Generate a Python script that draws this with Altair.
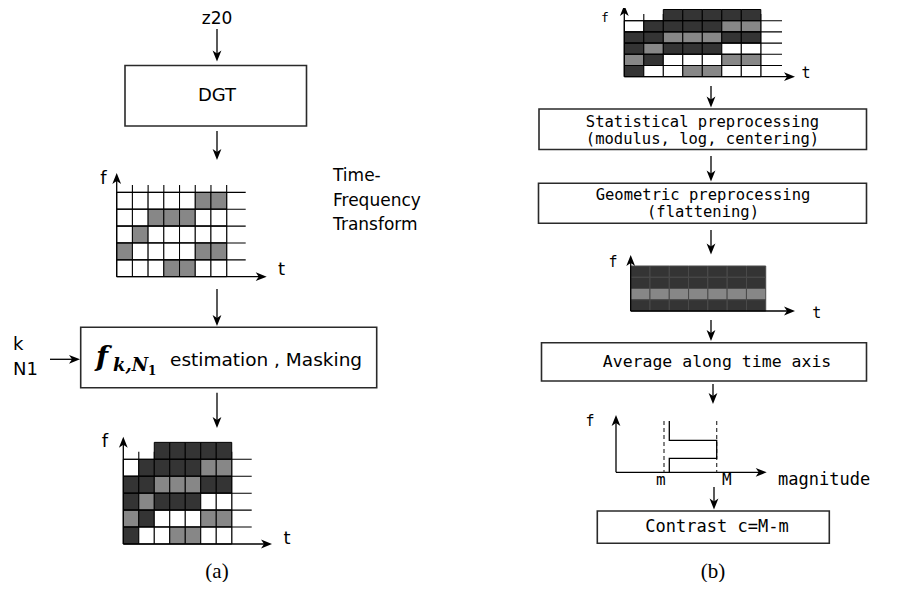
import altair as alt
import pandas as pd

W, H, PAD = 905, 590, 8

# ---------------- content ----------------
# cell codes: 0 = white, 1 = grey, 2 = dark, -1 = no cell
tf_grid = [
    [0, 0, 0, 0, 0, 1, 1],
    [0, 0, 1, 1, 1, 0, 0],
    [0, 1, 0, 0, 0, 0, 0],
    [1, 0, 0, 0, 0, 1, 1],
    [0, 0, 0, 1, 1, 0, 0],
]
masked_grid = [
    [-1, -1, 2, 2, 2, 2, 2],
    [0, 2, 2, 2, 2, 1, 1],
    [2, 2, 1, 1, 1, 2, 2],
    [2, 1, 2, 2, 2, 0, 0],
    [1, 2, 0, 0, 0, 1, 1],
    [2, 0, 0, 1, 1, 0, 0],
]
flat_rows = [2, 2, 1, 2]
flat_grid = [[v] * 7 for v in flat_rows]
fill_of = {0: "white", 1: "#878787", 2: "#343434"}

left_box_labels = ["DGT"]
right_box_labels = [
    ["Statistical preprocessing", "(modulus, log, centering)"],
    ["Geometric preprocessing", "(flattening)"],
    ["Average along time axis"],
    ["Contrast c=M-m"],
]
side_label = ["Time-", "Frequency", "Transform"]
params = ["k", "N1"]

# ---------------- layout ----------------
grids = [
    dict(m=tf_grid, x0=116.7, cw=15.71, yb=276.7, rh=16.87, full=5, ext=245.7, tick=7.3, stroke="black"),
    dict(m=masked_grid, x0=123.3, cw=15.49, yb=544.0, rh=16.94, full=5, ext=251.7, tick=7.6, stroke="black"),
    dict(m=masked_grid, x0=624.3, cw=19.5, yb=76.7, rh=11.2, full=5, ext=782.0, tick=6.7, stroke="black"),
    dict(m=flat_grid, x0=630.7, cw=19.29, yb=311.0, rh=11.25, full=0, ext=None, tick=0, stroke="#4a4a4a"),
]

cells, glines = [], []
for g in grids:
    n = len(g["m"])
    for r, row in enumerate(g["m"]):
        for c, v in enumerate(row):
            if v < 0:
                continue
            cells.append(dict(x=g["x0"] + c * g["cw"], x2=g["x0"] + (c + 1) * g["cw"],
                              y=g["yb"] - (n - r) * g["rh"], y2=g["yb"] - (n - r - 1) * g["rh"],
                              fill=fill_of[v], stroke=g["stroke"]))
    if g["full"]:
        top = g["yb"] - g["full"] * g["rh"]
        for k in range(1, g["full"] + 1):
            yy = g["yb"] - k * g["rh"]
            glines.append(dict(x=g["x0"], x2=g["ext"], y=yy, y2=yy))
        for j in range(1, len(g["m"][-1]) + 1):
            xx = g["x0"] + j * g["cw"]
            glines.append(dict(x=xx, x2=xx, y=top - g["tick"], y2=g["yb"]))

cells_df = pd.DataFrame(cells)
glines_df = pd.DataFrame(glines)

boxes_df = pd.DataFrame([
    dict(x=125, x2=306.5, y=65.5, y2=126),
    dict(x=80.7, x2=376.7, y=327.3, y2=387.7),
    dict(x=539, x2=866.5, y=109, y2=149.5),
    dict(x=538.5, x2=866.5, y=183.3, y2=223.3),
    dict(x=541.5, x2=866.5, y=342.7, y2=381),
    dict(x=597.3, x2=829.3, y=511, y2=543.3),
])

arrows = [
    (217, 29, 217, 61.5), (217, 131, 217, 160),
    (116.7, 276.7, 116.7, 173), (116.7, 276.7, 266.7, 276.7),
    (217, 289, 217, 326), (50, 359.3, 80, 359.3), (217, 392.7, 217, 428),
    (123.3, 544, 123.3, 436.7), (123.3, 544, 272, 544),
    (624.3, 76.7, 624.3, 5), (624.3, 76.7, 795, 76.7),
    (711, 86, 711, 107.5), (711, 156, 711, 181.5), (711, 230, 711, 254.5),
    (630.7, 311, 630.7, 255), (630.7, 311, 795, 311),
    (711, 320, 711, 341), (713, 384, 713, 404),
    (616, 472.3, 616, 415), (616, 472.3, 766.7, 472.3),
    (714, 487, 714, 509.5),
]
HEAD = 11
shafts, heads = [], []
for x1, y1, x2, y2 in arrows:
    dx = (x2 > x1) - (x2 < x1)
    dy = (y2 > y1) - (y2 < y1)
    ang = 90 if dx > 0 else (180 if dy > 0 else 0)
    shafts.append(dict(x=x1, y=y1, x2=x2 - dx * 3, y2=y2 - dy * 3))
    heads.append(dict(x=x2 - dx * HEAD / 2, y=y2 - dy * HEAD / 2, angle=ang))
shafts_df = pd.DataFrame(shafts)
heads_df = pd.DataFrame(heads)

dashed_df = pd.DataFrame([dict(x=664, x2=664, y=421, y2=472.3),
                          dict(x=716.7, x2=716.7, y=421, y2=472.3)])
step_df = pd.DataFrame([
    dict(x=669.3, y=421, o=0), dict(x=669.3, y=440.3, o=1), dict(x=716.7, y=440.3, o=2),
    dict(x=716.7, y=458.3, o=3), dict(x=669.3, y=458.3, o=4), dict(x=669.3, y=472.3, o=5),
])

sans_c = pd.DataFrame([
    dict(x=217, y=19, t="z20", s=17), dict(x=217, y=96, t=left_box_labels[0], s=18),
    dict(x=103.5, y=179, t="f", s=18), dict(x=281.5, y=270, t="t", s=18),
    dict(x=105, y=441.7, t="f", s=18), dict(x=287, y=539, t="t", s=18),
])
sans_l = pd.DataFrame([
    dict(x=333, y=176, t=side_label[0], s=17), dict(x=333, y=201, t=side_label[1], s=17),
    dict(x=333, y=225, t=side_label[2], s=17),
    dict(x=13, y=345, t=params[0], s=18), dict(x=13, y=370, t=params[1], s=18),
    dict(x=170, y=360, t="estimation , Masking", s=18.5),
])
mono_c = pd.DataFrame([
    dict(x=702.5, y=122, t=right_box_labels[0][0], s=15.5),
    dict(x=702.5, y=139, t=right_box_labels[0][1], s=15.5),
    dict(x=703, y=195, t=right_box_labels[1][0], s=15.5),
    dict(x=703, y=212, t=right_box_labels[1][1], s=15.5),
    dict(x=717, y=362, t=right_box_labels[2][0], s=16.5),
    dict(x=717, y=527, t=right_box_labels[3][0], s=17),
    dict(x=660.8, y=480, t="m", s=16), dict(x=726.7, y=480, t="M", s=16),
    dict(x=605, y=18, t="f", s=13), dict(x=806, y=73, t="t", s=15),
    dict(x=613, y=262, t="f", s=15), dict(x=816.7, y=313, t="t", s=15),
    dict(x=590, y=421, t="f", s=15),
])
mono_l = pd.DataFrame([dict(x=778, y=480, t="magnitude", s=17)])
serif_c = pd.DataFrame([dict(x=217, y=572, t="(a)", s=21), dict(x=713, y=572, t="(b)", s=21)])
math_bi = pd.DataFrame([dict(x=96, y=366, t="f", s=28), dict(x=113, y=371, t="k,N", s=18)])
math_b = pd.DataFrame([dict(x=148, y=375, t="1", s=12)])

# ---------------- chart ----------------
xs = alt.Scale(domain=[PAD, W - PAD], nice=False, zero=False)
ys = alt.Scale(domain=[PAD, H - PAD], nice=False, zero=False, reverse=True)


def X(f="x"):
    return alt.X(f"{f}:Q", scale=xs, axis=None)


def Y(f="y"):
    return alt.Y(f"{f}:Q", scale=ys, axis=None)


def seg(df, **kw):
    return alt.Chart(df).mark_rule(**kw).encode(x=X(), x2="x2:Q", y=Y(), y2="y2:Q")


def texts(df, font, align, baseline="middle", **kw):
    return alt.Chart(df).mark_text(font=font, align=align, baseline=baseline, color="black", **kw).encode(
        x=X(), y=Y(), text="t:N", size=alt.Size("s:Q", scale=None))


ARROW = "M0,-1 L0.8,1 L0,0.45 L-0.8,1 Z"

layers = [
    alt.Chart(boxes_df).mark_rect(fill="white", stroke="#2a2a2a", strokeWidth=1.6).encode(
        x=X(), x2="x2:Q", y=Y(), y2="y2:Q"),
    seg(glines_df[glines_df.x == glines_df.x2], color="black", strokeWidth=1.1),
    alt.Chart(cells_df).mark_rect(strokeWidth=1).encode(
        x=X(), x2="x2:Q", y=Y(), y2="y2:Q",
        color=alt.Color("fill:N", scale=None), stroke=alt.Stroke("stroke:N", scale=None)),
    seg(glines_df[glines_df.y == glines_df.y2], color="black", strokeWidth=1.1),
    seg(shafts_df, color="black", strokeWidth=1.3),
    alt.Chart(heads_df).mark_point(shape=ARROW, filled=True, color="black", opacity=1, size=HEAD * HEAD).encode(
        x=X(), y=Y(), angle=alt.Angle("angle:Q", scale=None)),
    seg(dashed_df, color="#333333", strokeWidth=1.2, strokeDash=[4, 3]),
    alt.Chart(step_df).mark_line(color="black", strokeWidth=1.3).encode(x=X(), y=Y(), order="o:Q"),
    texts(sans_c, "DejaVu Sans", "center"),
    texts(sans_l, "DejaVu Sans", "left"),
    texts(mono_c, "DejaVu Sans Mono", "center"),
    texts(mono_l, "DejaVu Sans Mono", "left"),
    texts(serif_c, "Liberation Serif", "center"),
    texts(math_bi, "DejaVu Serif", "left", baseline="alphabetic", fontStyle="italic", fontWeight="bold"),
    texts(math_b, "DejaVu Serif", "left", baseline="alphabetic", fontWeight="bold"),
]

chart = alt.layer(*layers).properties(
    width=W - 2 * PAD, height=H - 2 * PAD,
    autosize=alt.AutoSizeParams(type="none"), padding=0,
).configure_view(stroke=None)

chart.save("out.html", embed_options={"renderer": "svg", "actions": False})
